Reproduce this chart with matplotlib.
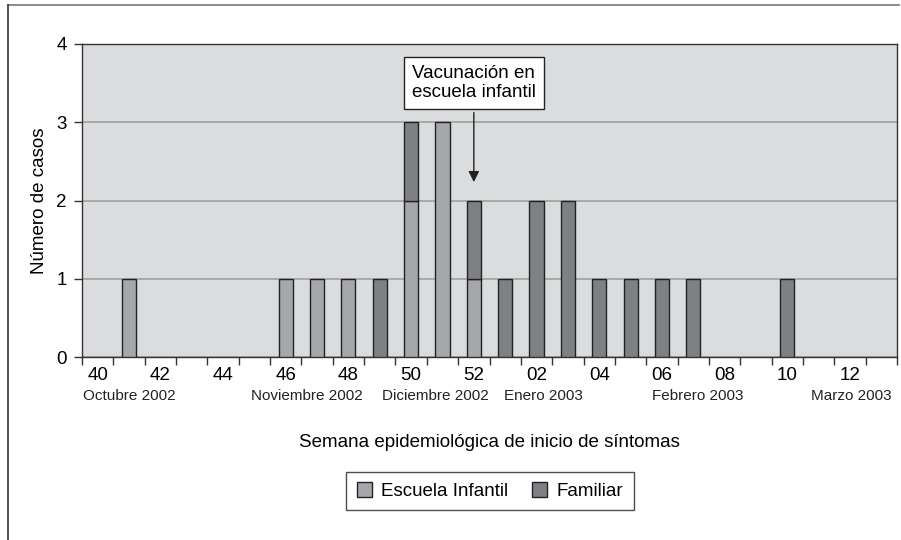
import matplotlib
matplotlib.use('Agg')
from matplotlib import pyplot as plt
from matplotlib.lines import Line2D
import numpy as np

plt.rcParams['font.family'] = ['Liberation Sans', 'DejaVu Sans']

# semanas epidemiológicas 40/2002 .. 13/2003
semanas = ['40', '41', '42', '43', '44', '45', '46', '47', '48', '49', '50', '51', '52',
           '01', '02', '03', '04', '05', '06', '07', '08', '09', '10', '11', '12', '13']
escuela = [0, 1, 0, 0, 0, 0, 1, 1, 1, 0, 2, 3, 1,
           0, 0, 0, 0, 0, 0, 0, 0, 0, 0, 0, 0, 0]
familiar = [0, 0, 0, 0, 0, 0, 0, 0, 0, 1, 1, 0, 1,
            1, 2, 2, 1, 1, 1, 1, 0, 0, 1, 0, 0, 0]
meses = ['Octubre 2002', 'Noviembre 2002', 'Diciembre 2002', 'Enero 2003',
         'Febrero 2003', 'Marzo 2003']
meses_pos = [1.0, 6.68, 10.78, 14.21, 19.15, 24.03]

c_esc = '#a6a7aa'
c_fam = '#7f8083'

fig = plt.figure(figsize=(9.01, 5.40), dpi=100)
ax = fig.add_axes([82 / 901, 1 - 357 / 540, 815 / 901, 313 / 540])
ax.set_facecolor('#dbdcde')

x = np.arange(len(semanas))
esc = np.array(escuela)
fam = np.array(familiar)
m_e = esc > 0
m_f = fam > 0
ax.bar(x[m_e], esc[m_e], width=0.45, color=c_esc, edgecolor='#222222', linewidth=1,
       label='Escuela Infantil', zorder=3)
ax.bar(x[m_f], fam[m_f], width=0.45, bottom=esc[m_f], color=c_fam, edgecolor='#222222',
       linewidth=1, label='Familiar', zorder=3)

ax.set_xlim(-0.5, len(semanas) - 0.5)
ax.set_ylim(0, 4)
ax.set_yticks([0, 1, 2, 3, 4])
ax.yaxis.grid(True, color='#a0a0a0', linewidth=1.2)
ax.set_axisbelow(True)
for s in ax.spines.values():
    s.set_color('#333333')
    s.set_linewidth(1)

# ticks at category boundaries, labels every second week
ax.set_xticks(np.arange(-0.5, len(semanas), 1.0))
ax.set_xticklabels([])
ax.set_xticks(x[::2], minor=True)
ax.set_xticklabels(semanas[::2], minor=True)
ax.tick_params(axis='x', which='major', length=6, width=1, color='#333333')
ax.tick_params(axis='x', which='minor', length=0, labelsize=13.5, pad=7)
ax.tick_params(axis='y', length=6, width=1, color='#333333', labelsize=13.5, pad=5)

trans = ax.get_xaxis_transform()
for m, p in zip(meses, meses_pos):
    ax.text(p, -0.125, m, transform=trans, ha='center', va='center', fontsize=11,
            color='#222222')

ax.set_xlabel('Semana epidemiológica de inicio de síntomas', fontsize=13.5, labelpad=36)
ax.set_ylabel('Número de casos', fontsize=13.5, labelpad=6)

ax.annotate('Vacunación en\nescuela infantil', xy=(12, 2.2), xytext=(12, 3.5),
            ha='center', va='center', fontsize=13.5,
            bbox=dict(boxstyle='square,pad=0.42', fc='white', ec='#222222', lw=1),
            arrowprops=dict(arrowstyle='-|>', color='#222222', lw=1, mutation_scale=16))

leg = fig.legend(loc='center', bbox_to_anchor=(490 / 901, 1 - 491 / 540), ncol=2,
                 frameon=True, fancybox=False, edgecolor='#222222', fontsize=13.5,
                 handlelength=0.8, handleheight=0.8, handletextpad=0.5,
                 columnspacing=1.3, borderpad=0.55)
leg.get_frame().set_linewidth(1)

# marco de la figura
fig.add_artist(Line2D([8 / 901, 899 / 901], [1 - 5 / 540, 1 - 5 / 540],
                      transform=fig.transFigure, color='#777777', lw=1.2))
fig.add_artist(Line2D([8 / 901, 8 / 901], [1 - 5 / 540, 0],
                      transform=fig.transFigure, color='#333333', lw=1.2))

fig.savefig('out.png', dpi=100)
